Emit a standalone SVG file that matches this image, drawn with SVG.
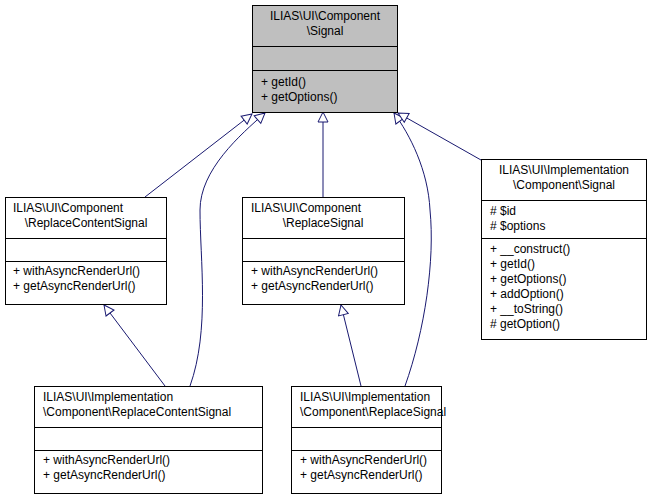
<svg xmlns="http://www.w3.org/2000/svg" width="653" height="500" viewBox="0 0 653 500">
<style>
text{font-family:"Liberation Sans",Arial,sans-serif;font-size:12px;fill:#000}
.b{fill:#fff;stroke:#000;stroke-width:1}
.g{fill:#bfbfbf;stroke:#000;stroke-width:1}
.e{fill:none;stroke:#191970;stroke-width:1}
.c{text-anchor:middle}
</style>
<defs><marker id="a" markerWidth="12" markerHeight="12" refX="11" refY="6" orient="auto" markerUnits="userSpaceOnUse"><path d="M1,1 L11,6 L1,11 Z" fill="#fff" stroke="#191970"/></marker></defs>
<rect width="653" height="500" fill="#fff"/>
<g id="edges">
<path class="e" d="M145,197 L252,114" marker-end="url(#a)"/>
<path class="e" d="M190,386 C210,330 200,260 200,210 C200,170 240,135 265,113" marker-end="url(#a)"/>
<path class="e" d="M323,197 L323,112" marker-end="url(#a)"/>
<path class="e" d="M405,386 C425,330 435,260 430,210 C428,170 410,135 394,113" marker-end="url(#a)"/>
<path class="e" d="M481,160 L398,113" marker-end="url(#a)"/>
<path class="e" d="M165,386 L104,305" marker-end="url(#a)"/>
<path class="e" d="M361,386 L341,305" marker-end="url(#a)"/>
</g>
<g id="signal">
<rect class="g" x="252.5" y="5.5" width="145" height="107"/>
<line x1="252.5" y1="46.5" x2="397.5" y2="46.5" stroke="#000"/>
<line x1="252.5" y1="70.5" x2="397.5" y2="70.5" stroke="#000"/>
<text class="c" x="325" y="20">ILIAS\UI\Component</text>
<text class="c" x="325" y="35">\Signal</text>
<text x="261" y="86">+ getId()</text>
<text x="261" y="101">+ getOptions()</text>
</g>
<g id="rcs">
<rect class="b" x="5.5" y="197.5" width="161" height="107"/>
<line x1="5.5" y1="238.5" x2="166.5" y2="238.5" stroke="#000"/>
<line x1="5.5" y1="261.5" x2="166.5" y2="261.5" stroke="#000"/>
<text x="13" y="212">ILIAS\UI\Component</text>
<text class="c" x="86" y="227">\ReplaceContentSignal</text>
<text x="13" y="275">+ withAsyncRenderUrl()</text>
<text x="13" y="290">+ getAsyncRenderUrl()</text>
</g>
<g id="rs">
<rect class="b" x="242.5" y="197.5" width="162" height="107"/>
<line x1="242.5" y1="238.5" x2="404.5" y2="238.5" stroke="#000"/>
<line x1="242.5" y1="261.5" x2="404.5" y2="261.5" stroke="#000"/>
<text x="251" y="212">ILIAS\UI\Component</text>
<text class="c" x="323" y="227">\ReplaceSignal</text>
<text x="251" y="275">+ withAsyncRenderUrl()</text>
<text x="251" y="290">+ getAsyncRenderUrl()</text>
</g>
<g id="isig">
<rect class="b" x="481.5" y="159.5" width="165" height="180"/>
<line x1="481.5" y1="200.5" x2="646.5" y2="200.5" stroke="#000"/>
<line x1="481.5" y1="238.5" x2="646.5" y2="238.5" stroke="#000"/>
<text class="c" x="564" y="174">ILIAS\UI\Implementation</text>
<text class="c" x="564" y="189">\Component\Signal</text>
<text x="490" y="215"># $id</text>
<text x="490" y="230"># $options</text>
<text x="490" y="253">+ __construct()</text>
<text x="490" y="268">+ getId()</text>
<text x="490" y="283">+ getOptions()</text>
<text x="490" y="298">+ addOption()</text>
<text x="490" y="313">+ __toString()</text>
<text x="490" y="328"># getOption()</text>
</g>
<g id="ircs">
<rect class="b" x="34.5" y="386.5" width="228" height="107"/>
<line x1="34.5" y1="427.5" x2="262.5" y2="427.5" stroke="#000"/>
<line x1="34.5" y1="450.5" x2="262.5" y2="450.5" stroke="#000"/>
<text x="43" y="401">ILIAS\UI\Implementation</text>
<text x="43" y="416">\Component\ReplaceContentSignal</text>
<text x="43" y="464">+ withAsyncRenderUrl()</text>
<text x="43" y="479">+ getAsyncRenderUrl()</text>
</g>
<g id="irs">
<rect class="b" x="291.5" y="386.5" width="150" height="107"/>
<line x1="291.5" y1="427.5" x2="441.5" y2="427.5" stroke="#000"/>
<line x1="291.5" y1="450.5" x2="441.5" y2="450.5" stroke="#000"/>
<text x="300" y="401">ILIAS\UI\Implementation</text>
<text x="300" y="416">\Component\ReplaceSignal</text>
<text x="300" y="464">+ withAsyncRenderUrl()</text>
<text x="300" y="479">+ getAsyncRenderUrl()</text>
</g>
</svg>
